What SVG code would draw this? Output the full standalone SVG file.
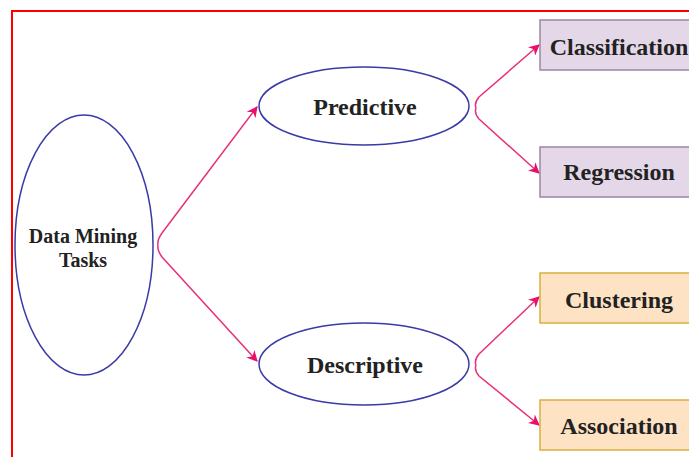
<svg xmlns="http://www.w3.org/2000/svg" width="689" height="457" viewBox="0 0 689 457">
<style>
.ell{fill:#fff;stroke:#3a3aa8;stroke-width:1.5}
.t{font-family:"Liberation Serif",serif;font-weight:bold;fill:#222;text-anchor:middle}
.p{fill:#e4d8e8;stroke:#9a86a8;stroke-width:1.5}
.o{fill:#fde3c4;stroke:#d8b040;stroke-width:1.5}
.c{fill:none;stroke:#e8307a;stroke-width:1.5}
</style>
<defs>
<marker id="ah" viewBox="0 0 10 10" refX="9" refY="5" markerWidth="11" markerHeight="11" markerUnits="userSpaceOnUse" orient="auto">
<path d="M0,0 L10,5 L0,10 L3,5 Z" fill="#e8106a"/>
</marker>
</defs>
<rect width="689" height="457" fill="#fff"/>
<rect x="12" y="11" width="690" height="460" fill="none" stroke="#ff0000" stroke-width="2"/>
<g id="connectors">
<path class="c" d="M158,245 Q157,240 162,233 L257,107" marker-end="url(#ah)"/>
<path class="c" d="M158,245 Q157,250 162,257 L257,361" marker-end="url(#ah)"/>
<path class="c" d="M476,108 Q474,103 479,97 L539,45" marker-end="url(#ah)"/>
<path class="c" d="M476,108 Q474,113 479,119 L539,173" marker-end="url(#ah)"/>
<path class="c" d="M476,365 Q474,360 479,354 L539,297" marker-end="url(#ah)"/>
<path class="c" d="M476,365 Q474,370 479,376 L539,425" marker-end="url(#ah)"/>
</g>
<g id="dmt">
<ellipse class="ell" cx="84" cy="245" rx="69" ry="130"/>
<text class="t" x="83" y="243" font-size="20">Data Mining</text>
<text class="t" x="83" y="267" font-size="20">Tasks</text>
</g>
<g id="predictive">
<ellipse class="ell" cx="364" cy="106" rx="105" ry="39"/>
<text class="t" x="365" y="115" font-size="24">Predictive</text>
</g>
<g id="descriptive">
<ellipse class="ell" cx="364" cy="364" rx="105" ry="41"/>
<text class="t" x="365" y="373" font-size="24">Descriptive</text>
</g>
<g id="classification">
<rect class="p" x="540" y="20" width="160" height="50"/>
<text class="t" x="619" y="55" font-size="24">Classification</text>
</g>
<g id="regression">
<rect class="p" x="540" y="147" width="160" height="50"/>
<text class="t" x="619" y="180" font-size="24">Regression</text>
</g>
<g id="clustering">
<rect class="o" x="540" y="273" width="160" height="50"/>
<text class="t" x="619" y="308" font-size="24">Clustering</text>
</g>
<g id="association">
<rect class="o" x="540" y="400" width="160" height="50"/>
<text class="t" x="619" y="434" font-size="24">Association</text>
</g>
</svg>
